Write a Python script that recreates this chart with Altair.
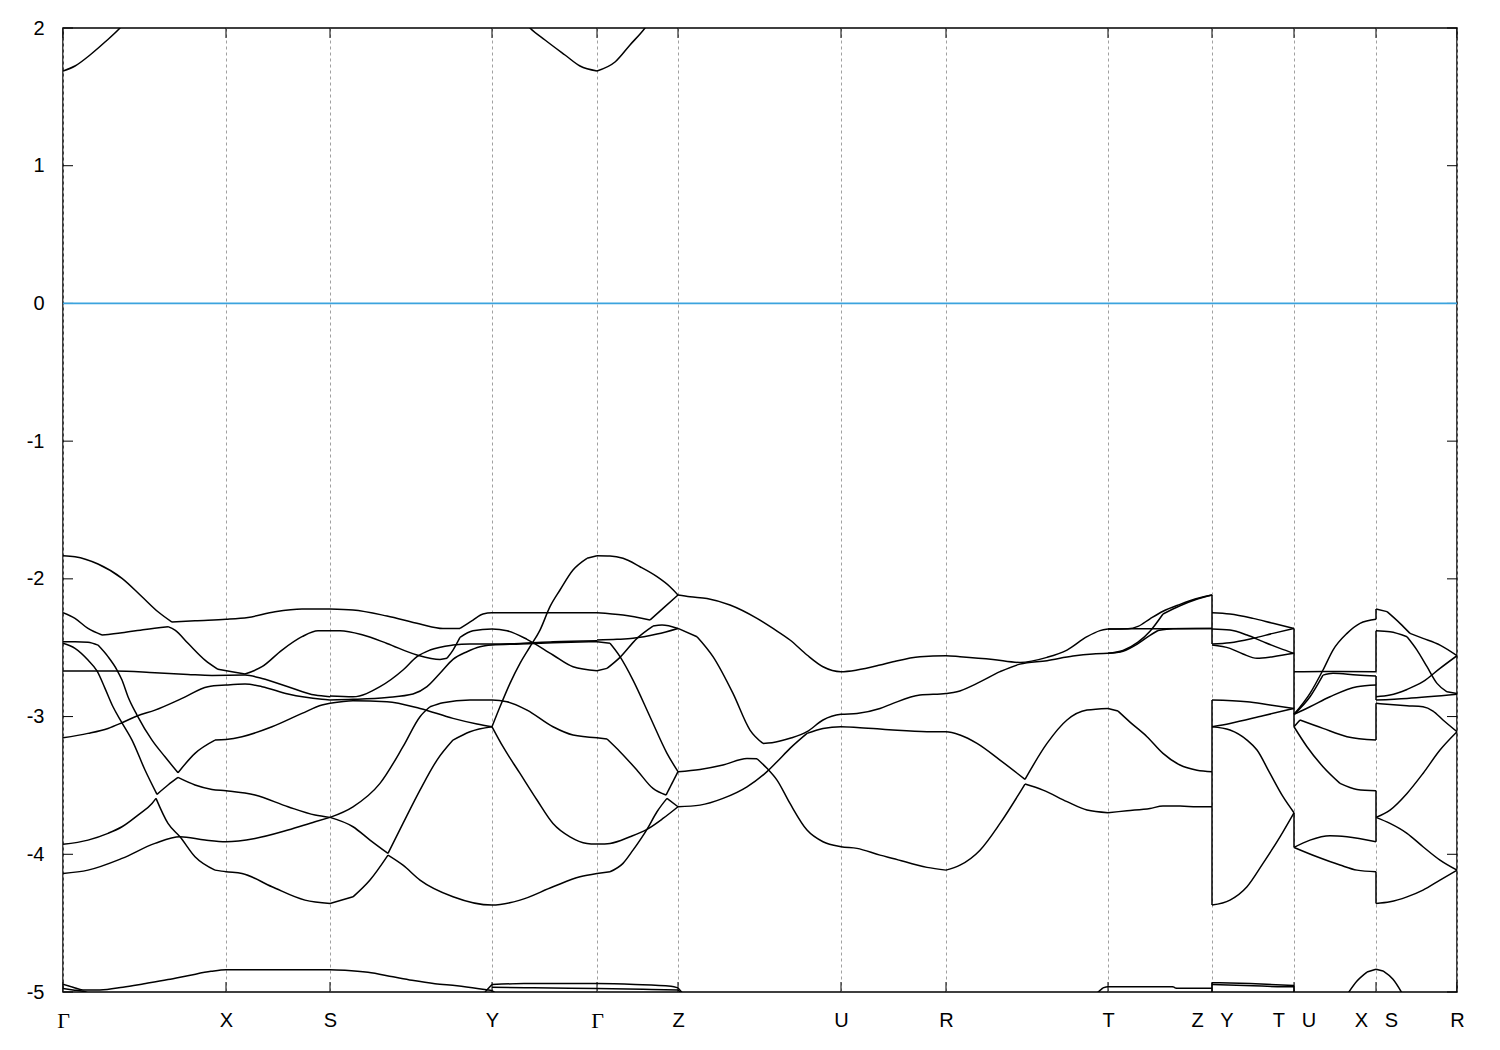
import math
import altair as alt
import pandas as pd

# high-symmetry points along the k-path (path distance, arbitrary units)
sym_k = [0, 163, 267, 429, 534, 615, 778, 883, 1045, 1149, 1231, 1313, 1394]
sym_labels = ["Γ", "X", "S", "Y", "Γ", "Z", "U", "R", "T", "Z|Y", "T|U", "X|S", "R"]
y_ticks = [-5, -4, -3, -2, -1, 0, 1, 2]
fermi = [0]

# ---- bands, each as list of (k, E) pairs, segment by segment ----
seg_G_X_S = [
    [(0,-1.832),(12,-1.839),(35,-1.892),(59,-1.996),(79,-2.130),(95,-2.239),(109,-2.314),(132,-2.304),(163,-2.294),(185,-2.280),(212,-2.239),(239,-2.219),(267,-2.219)],
    [(0,-2.246),(12,-2.287),(25,-2.360),(39,-2.408),(59,-2.391),(82,-2.367),(105,-2.347),(112,-2.372),(125,-2.468),(142,-2.590),(155,-2.657),(169,-2.674),(182,-2.691),(199,-2.638),(219,-2.517),(239,-2.420),(255,-2.377),(267,-2.377)],
    [(0,-2.456),(12,-2.456),(25,-2.461),(35,-2.481),(45,-2.565),(54,-2.662),(59,-2.735),(65,-2.856),(74,-2.989),(89,-3.171),(102,-3.292),(115,-3.408),(132,-3.267),(152,-3.171),(163,-3.166),(179,-3.146),(209,-3.074),(239,-2.977),(259,-2.916),(267,-2.904)],
    [(0,-2.468),(12,-2.505),(25,-2.590),(34,-2.669),(42,-2.795),(50,-2.929),(59,-3.045),(69,-3.171),(82,-3.388),(94,-3.565),(105,-3.497),(115,-3.442),(132,-3.497),(149,-3.529),(163,-3.539),(192,-3.570),(225,-3.655),(252,-3.715),(267,-3.732)],
    [(0,-2.669),(25,-2.669),(52,-2.669),(92,-2.682),(125,-2.694),(149,-2.701),(182,-2.699),(199,-2.723),(225,-2.783),(252,-2.844),(267,-2.856)],
    [(0,-3.154),(25,-3.122),(45,-3.086),(59,-3.045),(74,-2.996),(92,-2.953),(119,-2.868),(145,-2.783),(163,-2.771),(182,-2.764),(199,-2.783),(225,-2.836),(259,-2.875),(267,-2.880)],
    [(0,-3.928),(25,-3.897),(45,-3.848),(59,-3.800),(75,-3.715),(89,-3.631),(93,-3.594),(105,-3.776),(117,-3.873),(132,-4.018),(152,-4.115),(163,-4.127),(179,-4.139),(209,-4.236),(242,-4.333),(267,-4.357)],
    [(0,-4.139),(25,-4.115),(59,-4.030),(92,-3.921),(117,-3.873),(142,-3.897),(163,-3.909),(192,-3.885),(225,-3.824),(252,-3.764),(267,-3.732)],
]

seg_S_Y_G = [
    [(267,-2.219),(290,-2.226),(324,-2.270),(357,-2.328),(380,-2.360),(397,-2.360),(410,-2.299),(420,-2.255),(429,-2.246),(457,-2.246),(490,-2.246),(534,-2.246)],
    [(267,-2.377),(277,-2.377),(300,-2.408),(324,-2.469),(354,-2.553),(377,-2.585),(384,-2.577),(390,-2.517),(397,-2.425),(410,-2.377),(429,-2.364),(444,-2.377),(464,-2.439),(490,-2.553),(510,-2.638),(534,-2.667)],
    [(267,-2.851),(290,-2.856),(317,-2.783),(340,-2.662),(354,-2.565),(367,-2.517),(390,-2.481),(407,-2.473),(429,-2.473),(457,-2.469),(490,-2.456),(534,-2.449)],
    [(267,-2.880),(290,-2.875),(324,-2.861),(350,-2.836),(364,-2.783),(377,-2.686),(390,-2.585),(404,-2.529),(417,-2.493),(429,-2.481),(457,-2.473),(490,-2.464),(534,-2.456)],
    [(267,-2.904),(290,-2.885),(324,-2.892),(357,-2.941),(390,-3.013),(414,-3.054),(429,-3.074)],
    [(267,-3.732),(290,-3.655),(317,-3.485),(340,-3.219),(357,-3.001),(367,-2.929),(380,-2.899),(407,-2.880),(429,-2.880),(444,-2.892),(464,-2.953),(490,-3.074),(510,-3.134),(534,-3.154)],
    [(267,-3.732),(290,-3.800),(307,-3.897),(325,-3.994),(340,-3.776),(357,-3.534),(374,-3.316),(390,-3.171),(407,-3.110),(429,-3.074)],
    [(267,-4.357),(290,-4.309),(307,-4.187),(325,-4.006),(340,-4.079),(357,-4.187),(390,-4.308),(429,-4.369),(457,-4.333),(490,-4.236),(517,-4.163),(534,-4.139)],
    [(429,-3.074),(437,-2.929),(447,-2.759),(457,-2.614),(467,-2.493),(477,-2.372),(487,-2.202),(497,-2.081),(510,-1.936),(524,-1.851),(534,-1.832)],
    [(429,-3.074),(440,-3.219),(457,-3.413),(474,-3.606),(490,-3.776),(507,-3.873),(524,-3.921),(534,-3.926)],
]

seg_G_Z = [
    [(534,-1.832),(547,-1.834),(560,-1.851),(577,-1.912),(594,-1.984),(607,-2.057),(615,-2.117)],
    [(534,-2.246),(560,-2.263),(587,-2.299),(600,-2.214),(615,-2.117)],
    [(534,-2.444),(554,-2.439),(570,-2.432),(594,-2.401),(615,-2.360)],
    [(534,-2.667),(544,-2.650),(557,-2.570),(574,-2.432),(590,-2.343),(599,-2.335),(615,-2.360)],
    [(534,-2.456),(547,-2.468),(557,-2.565),(570,-2.735),(587,-3.001),(604,-3.267),(615,-3.400)],
    [(534,-3.154),(544,-3.163),(557,-3.255),(574,-3.389),(590,-3.522),(603,-3.570),(615,-3.400)],
    [(534,-3.926),(547,-3.921),(567,-3.873),(584,-3.819),(600,-3.740),(615,-3.655)],
    [(534,-4.139),(547,-4.127),(560,-4.066),(570,-3.970),(584,-3.819),(594,-3.691),(604,-3.594),(615,-3.655)],
]

seg_Z_U_R_T = [
    [(615,-2.117),(627,-2.130),(644,-2.142),(667,-2.190),(694,-2.287),(710,-2.360),(727,-2.444),(744,-2.553),(760,-2.638),(778,-2.674),(794,-2.662),(817,-2.626),(830,-2.602),(857,-2.565),(883,-2.558),(897,-2.565),(930,-2.585),(957,-2.607),(984,-2.570),(1004,-2.517),(1024,-2.420),(1037,-2.376),(1045,-2.364)],
    [(615,-2.360),(634,-2.420),(650,-2.565),(670,-2.832),(687,-3.098),(700,-3.195),(709,-3.190),(727,-3.158),(744,-3.110),(760,-3.025),(778,-2.984),(794,-2.977),(817,-2.941),(830,-2.904),(857,-2.844),(883,-2.832),(894,-2.820),(914,-2.759),(937,-2.674),(957,-2.619),(984,-2.594),(1010,-2.561),(1030,-2.546),(1045,-2.541)],
    [(615,-3.655),(637,-3.643),(660,-3.594),(684,-3.510),(704,-3.400),(714,-3.328),(727,-3.231),(744,-3.122),(760,-3.086),(778,-3.074),(794,-3.079),(817,-3.091),(830,-3.098),(864,-3.110),(883,-3.110),(897,-3.134),(914,-3.195),(937,-3.316),(962,-3.456),(984,-3.195),(1004,-3.025),(1024,-2.953),(1045,-2.941)],
    [(615,-3.400),(637,-3.384),(660,-3.352),(684,-3.304),(694,-3.306),(704,-3.376),(714,-3.461),(727,-3.631),(744,-3.824),(760,-3.909),(778,-3.945),(794,-3.957),(817,-4.006),(830,-4.030),(864,-4.095),(883,-4.115),(897,-4.079),(917,-3.970),(937,-3.776),(962,-3.490),(980,-3.534),(1004,-3.618),(1024,-3.679),(1045,-3.698)],
]

seg_T_Z = [
    [(1045,-2.364),(1070,-2.362),(1100,-2.362),(1149,-2.360)],
    [(1045,-2.364),(1065,-2.362),(1075,-2.345),(1087,-2.290),(1100,-2.235),(1117,-2.185),(1133,-2.145),(1149,-2.117)],
    [(1045,-2.541),(1060,-2.520),(1075,-2.460),(1087,-2.380),(1100,-2.255),(1117,-2.195),(1133,-2.150),(1149,-2.117)],
    [(1045,-2.541),(1060,-2.525),(1075,-2.470),(1087,-2.410),(1095,-2.375),(1110,-2.362),(1149,-2.360)],
    [(1045,-2.941),(1055,-2.960),(1067,-3.040),(1084,-3.146),(1100,-3.267),(1117,-3.352),(1134,-3.389),(1149,-3.400)],
    [(1045,-3.698),(1064,-3.684),(1087,-3.667),(1100,-3.650),(1117,-3.650),(1134,-3.655),(1149,-3.655)],
]

seg_Y_T = [
    [(1149,-2.246),(1167,-2.255),(1190,-2.287),(1210,-2.323),(1231,-2.360)],
    [(1149,-2.364),(1167,-2.372),(1184,-2.408),(1200,-2.456),(1217,-2.505),(1231,-2.541)],
    [(1149,-2.473),(1167,-2.464),(1190,-2.432),(1210,-2.396),(1231,-2.360)],
    [(1149,-2.481),(1167,-2.505),(1180,-2.546),(1194,-2.577),(1210,-2.565),(1231,-2.541)],
    [(1149,-2.880),(1184,-2.892),(1207,-2.916),(1231,-2.941)],
    [(1149,-3.074),(1167,-3.050),(1200,-2.994),(1231,-2.941)],
    [(1149,-3.074),(1167,-3.098),(1184,-3.171),(1194,-3.243),(1207,-3.413),(1220,-3.582),(1231,-3.698)],
    [(1149,-4.369),(1167,-4.333),(1184,-4.236),(1200,-4.066),(1217,-3.873),(1231,-3.698)],
]

seg_U_X = [
    [(1231,-2.674),(1260,-2.672),(1313,-2.674)],
    [(1231,-2.984),(1247,-2.832),(1260,-2.662),(1270,-2.517),(1284,-2.396),(1297,-2.323),(1313,-2.294)],
    [(1231,-2.984),(1247,-2.856),(1260,-2.699),(1270,-2.686),(1294,-2.699),(1313,-2.706)],
    [(1231,-2.984),(1247,-2.929),(1267,-2.856),(1294,-2.783),(1313,-2.771)],
    [(1231,-3.074),(1237,-3.025),(1260,-3.086),(1284,-3.146),(1313,-3.171)],
    [(1231,-3.074),(1244,-3.219),(1260,-3.364),(1277,-3.485),(1294,-3.529),(1313,-3.539)],
    [(1231,-3.950),(1247,-3.897),(1267,-3.865),(1284,-3.873),(1313,-3.909)],
    [(1231,-3.950),(1254,-4.018),(1277,-4.078),(1294,-4.115),(1313,-4.127)],
]

seg_S_R = [
    [(1313,-2.219),(1324,-2.238),(1337,-2.323),(1347,-2.396),(1360,-2.432),(1377,-2.481),(1394,-2.558)],
    [(1313,-2.377),(1327,-2.384),(1344,-2.420),(1354,-2.517),(1364,-2.638),(1374,-2.759),(1384,-2.820),(1394,-2.832)],
    [(1313,-2.856),(1327,-2.844),(1344,-2.803),(1360,-2.747),(1377,-2.650),(1394,-2.558)],
    [(1313,-2.880),(1344,-2.868),(1394,-2.838)],
    [(1313,-2.904),(1344,-2.921),(1360,-2.929),(1370,-2.960),(1380,-3.025),(1394,-3.110)],
    [(1313,-3.732),(1327,-3.679),(1344,-3.558),(1360,-3.413),(1377,-3.243),(1394,-3.110)],
    [(1313,-3.732),(1327,-3.776),(1344,-3.848),(1360,-3.945),(1377,-4.042),(1394,-4.115)],
    [(1313,-4.357),(1327,-4.345),(1344,-4.309),(1360,-4.260),(1377,-4.187),(1394,-4.115)],
]

# jumps at the path discontinuities Z|Y, T|U, X|S
jumps = [
    [(1149,-2.117),(1149,-2.473)], [(1149,-2.880),(1149,-4.369)],
    [(1231,-2.360),(1231,-3.074)], [(1231,-3.698),(1231,-3.950)],
    [(1313,-2.219),(1313,-2.294)], [(1313,-2.377),(1313,-2.674)],
    [(1313,-2.706),(1313,-2.880)], [(1313,-2.904),(1313,-3.171)],
    [(1313,-3.539),(1313,-3.909)], [(1313,-4.127),(1313,-4.357)],
    [(1149,-4.932),(1149,-5.02)], [(1231,-4.952),(1231,-5.02)],
]

# low-lying bands near -5 eV
low_bands = [
    [(0,-4.943),(10,-4.965),(20,-4.985),(37,-4.985),(60,-4.965),(81,-4.94),(105,-4.91),(126,-4.88),(148,-4.85),(163,-4.838),(267,-4.838),(282,-4.842),(305,-4.857),(330,-4.89),(349,-4.915),(372,-4.94),(394,-4.955),(416,-4.976),(429,-4.99),(435,-5.02)],
    [(0,-4.975),(10,-4.985),(20,-4.995),(30,-5.02)],
    [(422,-5.0),(429,-4.945),(461,-4.939),(534,-4.939),(572,-4.945),(608,-4.958),(615,-4.97),(621,-5.02)],
    [(429,-4.965),(470,-4.97),(534,-4.975),(580,-4.98),(615,-4.985),(620,-5.02)],
    [(1032,-5.02),(1040,-4.97),(1045,-4.961),(1110,-4.961),(1113,-4.973),(1149,-4.973)],
    [(1149,-4.932),(1187,-4.939),(1231,-4.952)],
    [(1149,-4.945),(1190,-4.955),(1220,-4.961),(1231,-4.961)],
    [(1284,-5.02),(1294,-4.92),(1304,-4.855),(1313,-4.835),(1320,-4.847),(1330,-4.908),(1340,-5.02)],
]

# conduction bands near +2 eV
high_bands = [
    [(0,1.688),(12,1.724),(27,1.804),(42,1.898),(57,2.0),(62,2.04)],
    [(462,2.04),(467,2.0),(482,1.913),(502,1.804),(517,1.724),(534,1.688),(552,1.753),(567,1.877),(582,2.0),(586,2.04)],
]

segments = {
    "gxs": seg_G_X_S, "syg": seg_S_Y_G, "gz": seg_G_Z, "zurt": seg_Z_U_R_T,
    "tz": seg_T_Z, "yt": seg_Y_T, "ux": seg_U_X, "sr": seg_S_R,
    "low": low_bands, "high": high_bands,
}

W, H = 1394, 964
E_MIN, E_MAX = -5, 2
PX_PER_E = H / (E_MAX - E_MIN)
K_PX = W / 1394


def split_at_kinks(pts, thr_deg=24):
    """Split a traced band where it turns sharply (crossings), so smooth
    interpolation is applied only between the corners."""
    if len(pts) < 3:
        return [pts]
    out, cur = [], [pts[0]]
    for i in range(1, len(pts) - 1):
        cur.append(pts[i])
        (k0, e0), (k1, e1), (k2, e2) = pts[i - 1], pts[i], pts[i + 1]
        a1 = math.degrees(math.atan2((e1 - e0) * PX_PER_E, (k1 - k0) * K_PX))
        a2 = math.degrees(math.atan2((e2 - e1) * PX_PER_E, (k2 - k1) * K_PX))
        if abs(a2 - a1) > thr_deg:
            out.append(cur)
            cur = [pts[i]]
    cur.append(pts[-1])
    out.append(cur)
    return out


rows = []
for name, seg in segments.items():
    for j, piece in enumerate(seg):
        for s, sub in enumerate(split_at_kinks(piece)):
            for i, (k, e) in enumerate(sub):
                rows.append({"piece": f"{name}_{j}_{s}", "i": i, "k": k, "E": e})
df = pd.DataFrame(rows)

jrows = []
for j, piece in enumerate(jumps):
    for i, (k, e) in enumerate(piece):
        jrows.append({"piece": f"jump_{j}", "i": i, "k": k, "E": e})
df_jumps = pd.DataFrame(jrows)

x_scale = alt.Scale(domain=[0, 1394], nice=False, zero=False)
y_scale = alt.Scale(domain=[E_MIN, E_MAX], nice=False, zero=False)

disp = [s.replace("|", "\u00a0\u00a0\u00a0") for s in sym_labels]
label_expr = "''"
for kv, lab in reversed(list(zip(sym_k, disp))):
    label_expr = f"datum.value == {kv} ? '{lab}' : ({label_expr})"

gamma_test = "datum.value == 0 || datum.value == 534"
x_axis = alt.Axis(
    values=sym_k, labelExpr=label_expr, grid=True, gridDash=[3, 3],
    gridColor="#a0a0a0", gridWidth=1, ticks=False, tickSize=0, domain=False,
    labelFontSize={"condition": {"test": gamma_test, "value": 22}, "value": 20},
    labelFont={"condition": {"test": gamma_test, "value": "Liberation Serif"},
               "value": "Liberation Sans"},
    labelPadding=18, labelColor="black", labelFlush=False, labelOverlap=False,
    labelBaseline="top", title=None,
)
y_axis = alt.Axis(
    values=y_ticks, labelExpr="'' + datum.value", grid=False, ticks=False,
    tickSize=0, domain=False, labelFontSize=20, labelFont="Liberation Sans",
    labelPadding=19, labelColor="black", labelFlush=False, labelOverlap=False,
    title=None,
)

band_enc = dict(
    x=alt.X("k:Q", scale=x_scale, axis=x_axis),
    y=alt.Y("E:Q", scale=y_scale, axis=y_axis),
    detail="piece:N",
    order="i:Q",
)
bands = alt.Chart(df).mark_line(
    clip=True, color="black", strokeWidth=1.5, interpolate="monotone"
).encode(**band_enc)
jump_lines = alt.Chart(df_jumps).mark_line(
    clip=True, color="black", strokeWidth=1.5
).encode(**band_enc)

xt = pd.DataFrame({"k": sym_k})
yt = pd.DataFrame({"E": y_ticks})
tick_style = dict(color="black", strokeWidth=1)
bottom_ticks = alt.Chart(xt).mark_rule(**tick_style).encode(
    x=alt.X("k:Q", scale=x_scale, axis=x_axis), y=alt.value(H), y2=alt.value(H - 10))
top_ticks = alt.Chart(xt).mark_rule(**tick_style).encode(
    x=alt.X("k:Q", scale=x_scale, axis=x_axis), y=alt.value(0), y2=alt.value(10))
left_ticks = alt.Chart(yt).mark_rule(**tick_style).encode(
    y=alt.Y("E:Q", scale=y_scale, axis=y_axis), x=alt.value(0), x2=alt.value(10))
right_ticks = alt.Chart(yt).mark_rule(**tick_style).encode(
    y=alt.Y("E:Q", scale=y_scale, axis=y_axis), x=alt.value(W), x2=alt.value(W - 10))

zero_line = alt.Chart(pd.DataFrame({"E": fermi})).mark_rule(
    color="#3ba3de", strokeWidth=1.8).encode(
    y=alt.Y("E:Q", scale=y_scale, axis=y_axis))

chart = alt.layer(
    bands, jump_lines, bottom_ticks, top_ticks, left_ticks, right_ticks, zero_line
).properties(
    width=W, height=H,
    autosize=alt.AutoSizeParams(type="none"),
    padding={"left": 55, "top": 20, "right": 25, "bottom": 45},
    background="white",
).configure_view(stroke="black", strokeWidth=1.5)

chart.save("out.html", embed_options={"renderer": "svg", "actions": False})
